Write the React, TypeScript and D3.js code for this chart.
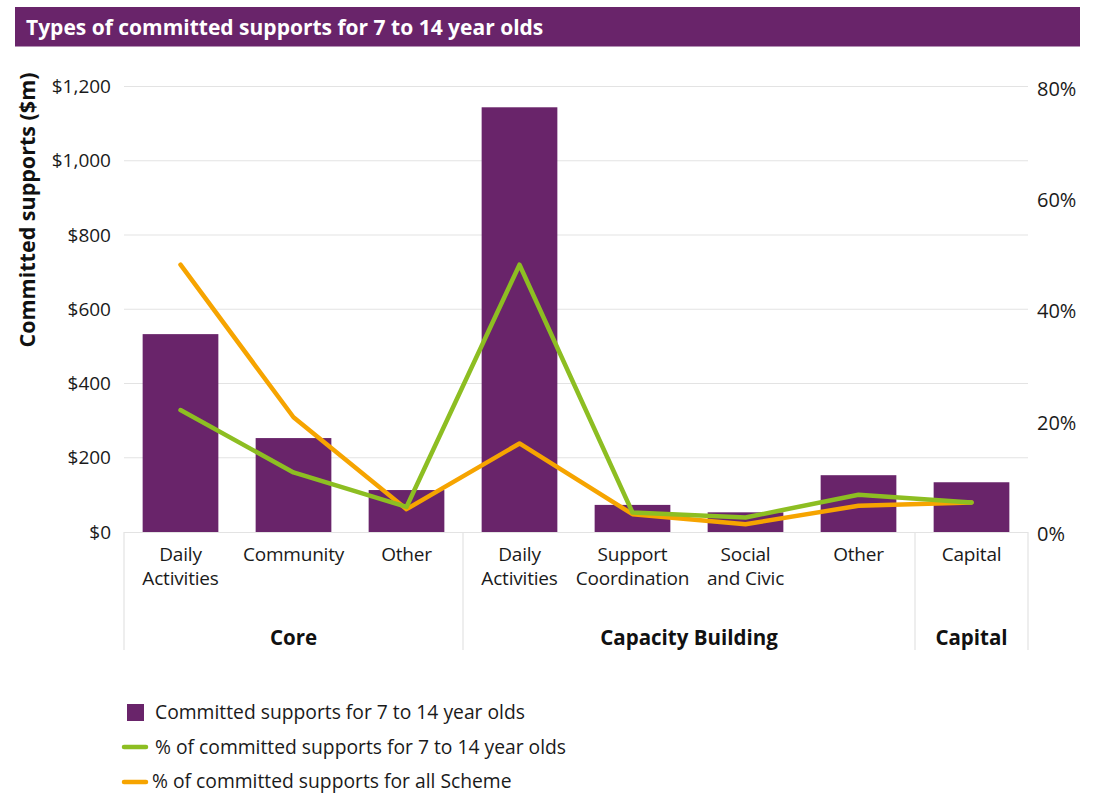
import React from "react";
import * as d3 from "d3";

const categories = ["Daily\nActivities", "Community", "Other", "Daily\nActivities", "Support\nCoordination", "Social\nand Civic", "Other", "Capital"];
const groupNames = ["Core", "Capacity Building", "Capital"];
const groupSizes = [3, 4, 1];
const committed = [533, 253, 113, 1144, 73, 53, 153, 134];
const pct714 = [21.9, 10.7, 4.5, 48.0, 3.5, 2.6, 6.7, 5.3];
const pctScheme = [48.0, 20.6, 4.1, 15.9, 3.2, 1.4, 4.7, 5.3];
const leftTicks = [0, 200, 400, 600, 800, 1000, 1200];
const rightTicks = [0, 20, 40, 60, 80];
const legendLabels = [
  "Committed supports for 7 to 14 year olds",
  "% of committed supports for 7 to 14 year olds",
  "% of committed supports for all Scheme",
];

const PURPLE = "#69246a";
const GREEN = "#8dbe22";
const ORANGE = "#f6a400";
const FONT = "'Open Sans', sans-serif";

export default function App() {
  const W = 1093, H = 794;
  const x0 = 124, x1 = 1028, yBase = 532, yTop = 86.5;
  const x = d3.scaleBand<number>().domain(d3.range(categories.length)).range([x0, x1]).paddingInner(0.33).paddingOuter(0.165);
  const yL = d3.scaleLinear().domain([0, 1200]).range([yBase, yTop]);
  const yR = d3.scaleLinear().domain([0, 80]).range([yBase, yTop]);
  const cx = (i: number) => (x(i) as number) + x.bandwidth() / 2;
  const line = d3.line<number>().x((_, i) => cx(i)).y((d) => yR(d));
  const fmt = d3.format(",");

  const bounds: number[] = [0];
  groupSizes.forEach((s) => bounds.push(bounds[bounds.length - 1] + s));
  const step = x.step();
  const bx = (k: number) => x0 + k * step;

  return (
    <svg width={W} height={H} style={{ position: "absolute", left: 0, top: 0, fontFamily: FONT }}>
      <rect x={0} y={0} width={W} height={H} fill="#fff" />
      <rect x={15} y={7} width={1065} height={39.5} fill={PURPLE} />
      <text x={26} y={34.5} fill="#fff" fontSize={21} fontWeight={700}>Types of committed supports for 7 to 14 year olds</text>

      {leftTicks.map((t) => (
        <g key={t}>
          {t > 0 && <line x1={x0} x2={x1} y1={yL(t)} y2={yL(t)} stroke="#e3e3e3" strokeWidth={1.2} />}
          <text x={111} y={yL(t) + 6.5} textAnchor="end" fontSize={19} fill="#1a1a1a">{"$" + fmt(t)}</text>
        </g>
      ))}
      {rightTicks.map((t) => (
        <text key={t} x={1037} y={yR(t) + 9} fontSize={20} fill="#1a1a1a">{t + "%"}</text>
      ))}

      <text transform={`translate(35,210) rotate(-90)`} textAnchor="middle" fontSize={21.5} fontWeight={700} fill="#111">Committed supports ($m)</text>

      <line x1={x0} x2={x1} y1={yBase + 0.5} y2={yBase + 0.5} stroke="#e3e3e3" strokeWidth={1.2} />
      {bounds.map((b, k) => (
        <line key={k} x1={bx(b)} x2={bx(b)} y1={yBase} y2={650} stroke="#e3e3e3" strokeWidth={1.2} />
      ))}

      {committed.map((v, i) => (
        <rect key={i} x={x(i)} y={yL(v)} width={x.bandwidth()} height={yBase - yL(v)} fill={PURPLE} />
      ))}

      <path d={line(pctScheme) as string} fill="none" stroke={ORANGE} strokeWidth={4.5} strokeLinejoin="round" strokeLinecap="round" />
      <path d={line(pct714) as string} fill="none" stroke={GREEN} strokeWidth={4.5} strokeLinejoin="round" strokeLinecap="round" />

      {categories.map((c, i) => (
        <text key={i} x={cx(i)} y={561} textAnchor="middle" fontSize={19} fill="#1a1a1a" letterSpacing={-0.2}>
          {c.split("\n").map((s, j) => (
            <tspan key={j} x={cx(i)} dy={j === 0 ? 0 : 24}>{s}</tspan>
          ))}
        </text>
      ))}
      {groupNames.map((g, k) => (
        <text key={g} x={(bx(bounds[k]) + bx(bounds[k + 1])) / 2} y={645} textAnchor="middle" fontSize={20.5} fontWeight={700} fill="#111">{g}</text>
      ))}

      <rect x={127} y={704} width={17} height={17} fill={PURPLE} />
      <text x={155} y={719} fontSize={19.3} fill="#1a1a1a">{legendLabels[0]}</text>
      <line x1={124} x2={146} y1={747} y2={747} stroke={GREEN} strokeWidth={4.5} strokeLinecap="round" />
      <text x={155} y={754} fontSize={19.3} fill="#1a1a1a">{legendLabels[1]}</text>
      <line x1={124} x2={146} y1={782} y2={782} stroke={ORANGE} strokeWidth={4.5} strokeLinecap="round" />
      <text x={152} y={788} fontSize={19.3} fill="#1a1a1a">{legendLabels[2]}</text>
    </svg>
  );
}
